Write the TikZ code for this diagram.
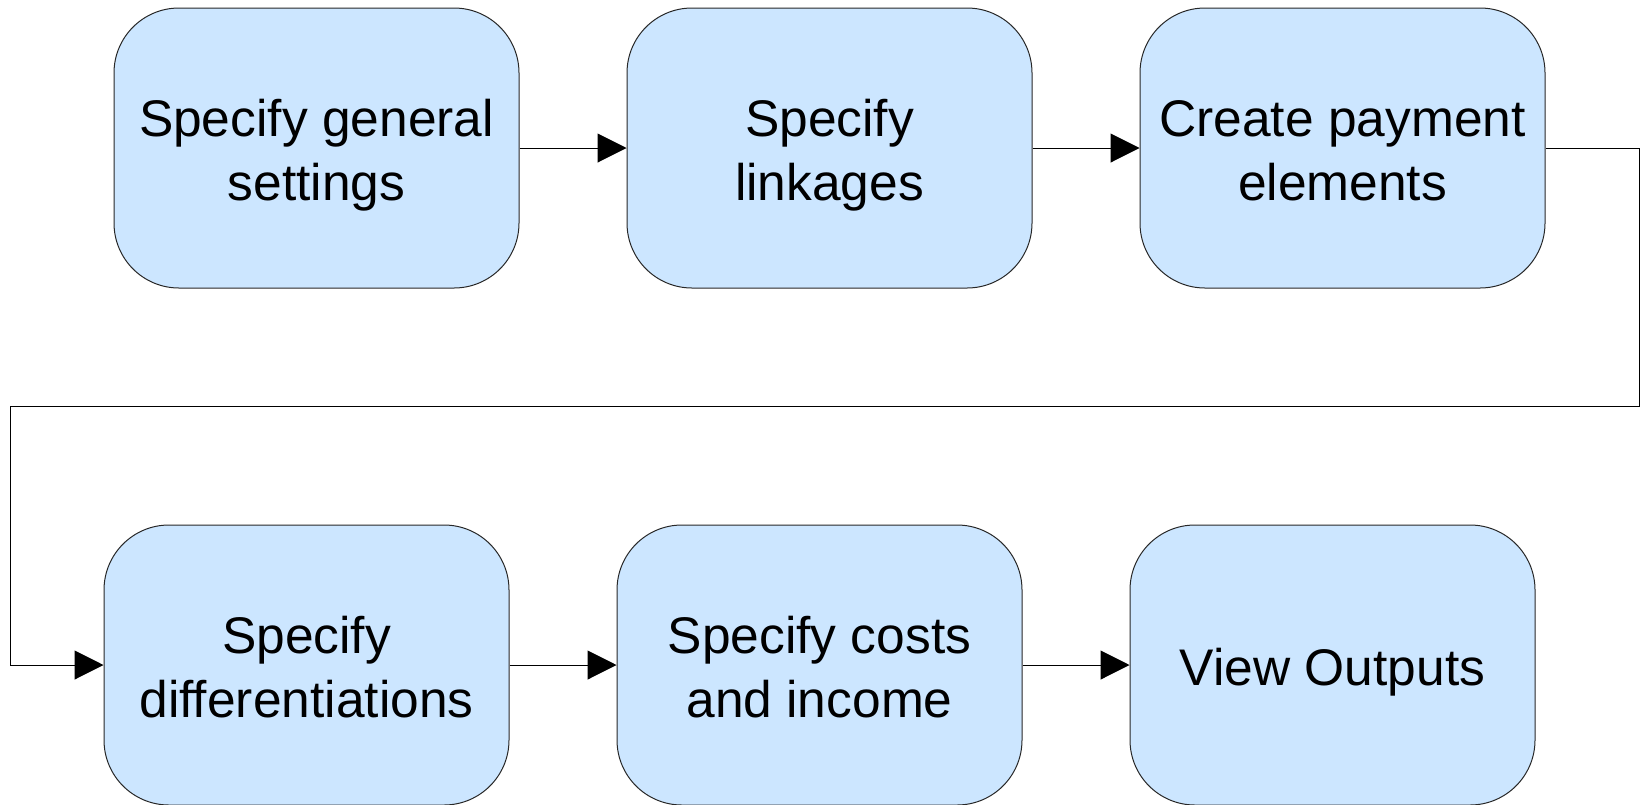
\documentclass[tikz,border=0pt]{standalone}
\usepackage{fontspec}
\setmainfont{Liberation Sans}
\usetikzlibrary{arrows.meta}

\definecolor{boxblue}{RGB}{204,230,255}
\definecolor{boxline}{RGB}{40,40,40}

\tikzset{
  stepbox/.style={draw=boxline, line width=1pt, fill=boxblue, rectangle,
    rounded corners=65pt, minimum width=405pt, minimum height=280pt,
    align=center, inner sep=0pt,
    font=\fontsize{51.5pt}{64.7pt}\selectfont,
    text height=116.7pt, text depth=11pt},
  oneline/.style={text height=52pt},
  flow/.style={draw=black, line width=1pt, -{Triangle[length=29pt, width=29pt]}}
}

\begin{document}
\begin{tikzpicture}[x=1pt, y=-1pt]
    \useasboundingbox (0,0) rectangle (1646,804);
    % top row
    \node[stepbox] (general) at (316.5,148) {Specify general\\settings};
    \node[stepbox] (links) at (829.5,148) {Specify\\linkages};
    \node[stepbox] (elems) at (1342.5,148) {Create payment\\elements};
    % bottom row
    \node[stepbox] (diffs) at (306.5,665) {Specify\\differentiations};
    \node[stepbox] (costs) at (819.5,665) {Specify costs\\and income};
    \node[stepbox, oneline] (outputs) at (1332.5,665) {View Outputs};
    % return path
    \coordinate (turnR) at (1639,406);
    \coordinate (turnL) at (10,406);
    \draw[flow] (general) -- (links);
    \draw[flow] (links) -- (elems);
    \draw[flow] (elems.east) -| (turnR) -- (turnL) |- (diffs.west);
    \draw[flow] (diffs) -- (costs);
    \draw[flow] (costs) -- (outputs);
  \end{tikzpicture}
\end{document}
